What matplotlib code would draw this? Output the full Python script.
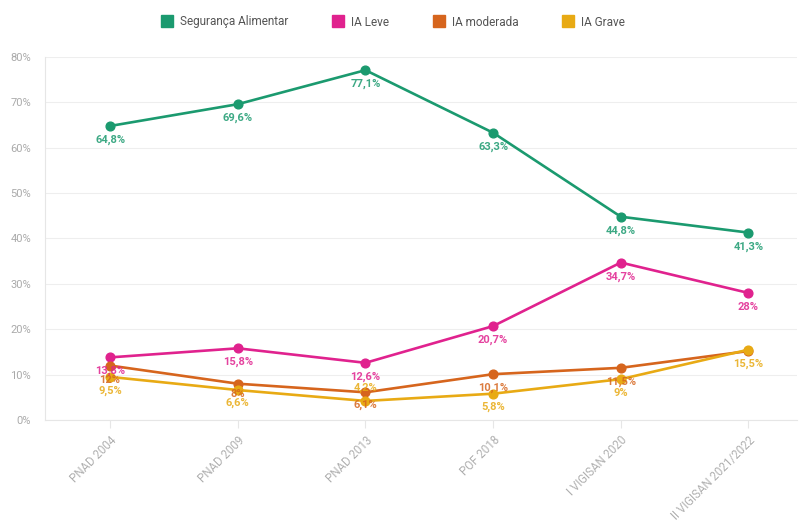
import numpy as np
import matplotlib
matplotlib.use("Agg")
import matplotlib.pyplot as plt
from matplotlib.lines import Line2D

plt.rcParams['font.family'] = ['Roboto', 'DejaVu Sans']

# Data
surveys = ['PNAD 2004', 'PNAD 2009', 'PNAD 2013', 'POF 2018', 'I VIGISAN 2020', 'II VIGISAN 2021/2022']
seguranca = [64.8, 69.6, 77.1, 63.3, 44.8, 41.3]
ia_leve = [13.8, 15.8, 12.6, 20.7, 34.7, 28.0]
ia_moderada = [12.0, 8.0, 6.1, 10.1, 11.5, 15.2]
ia_grave = [9.5, 6.6, 4.2, 5.8, 9.0, 15.5]

series_names = ['Segurança Alimentar', 'IA Leve', 'IA moderada', 'IA Grave']
colors = ['#1b9a6f', '#e0228e', '#d6651d', '#e8aa14']

# label offsets (pixels); None = label hidden in the original
label_dy = [
    [-14, -14, -14, -14, -14, -14],
    [-13, -14, -14, -14, -14, -14],
    [-14, -10, -13, -14, -14, None],
    [-14, -13, 13, -13, -14, -14],
]

def fmt(v):
    s = f"{v:.1f}".rstrip('0').rstrip('.')
    return s.replace('.', ',') + '%'

fig = plt.figure(figsize=(8.01, 5.22), dpi=100)
ax = fig.add_axes([45 / 801, 102 / 522, 752 / 801, 363 / 522])

x = np.arange(len(surveys))
all_series = [seguranca, ia_leve, ia_moderada, ia_grave]
for vals, c, name in zip(all_series, colors, series_names):
    ax.plot(x, vals, color=c, lw=1.9, marker='o', markersize=6.3, label=name, zorder=3)

for vals, c, offs in zip(all_series, colors, label_dy):
    for xi, v, dy in zip(x, vals, offs):
        if dy is None:
            continue
        ax.annotate(fmt(v), (xi, v), xytext=(0, dy), textcoords='offset pixels',
                    ha='center', va='center', fontsize=8, fontweight='bold',
                    color=c, alpha=0.85, zorder=4)

ax.set_ylim(0, 80)
ax.set_xlim(-0.51, 5.38)
ax.set_yticks(range(0, 81, 10))
ax.set_yticklabels([f"{t}%" for t in range(0, 81, 10)])
ax.set_xticks(x)
ax.set_xticklabels(surveys, rotation=45, ha='right', rotation_mode='anchor')

ax.grid(axis='y', color='#eeeeee', lw=0.8)
ax.set_axisbelow(True)
for side in ['top', 'right']:
    ax.spines[side].set_visible(False)
for side in ['left', 'bottom']:
    ax.spines[side].set_color('#e6e6e6')
    ax.spines[side].set_linewidth(0.8)
ax.tick_params(axis='y', length=0, colors='#aaaaaa', labelsize=8, pad=10)
ax.tick_params(axis='x', length=6, color='#e6e6e6', colors='#b0b0b0', labelsize=8.3, pad=4)

handles = [Line2D([], [], marker='s', linestyle='none', markersize=9, color=c) for c in colors]
fig.legend(handles, series_names, loc='center', bbox_to_anchor=(390 / 801, 1 - 22 / 522),
           ncol=4, frameon=False, fontsize=8.5, handletextpad=0.1, columnspacing=3.2,
           labelcolor='#555555')

fig.savefig('out.png', dpi=100)
